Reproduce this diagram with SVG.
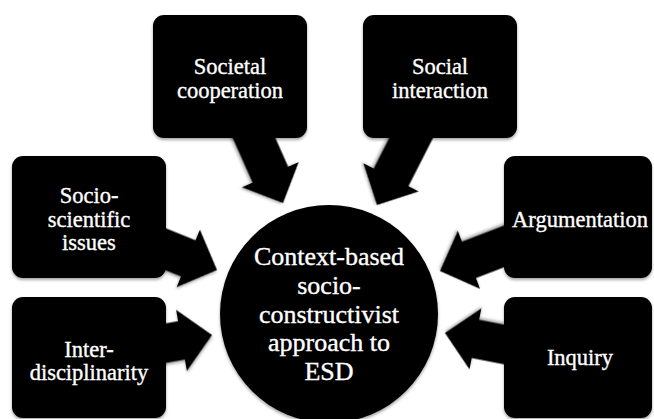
<svg xmlns="http://www.w3.org/2000/svg" width="654" height="419" viewBox="0 0 654 419">
  <defs>
    <filter id="shade" x="-10%" y="-10%" width="120%" height="130%">
      <feDropShadow dx="0" dy="2" stdDeviation="1.8" flood-color="#000" flood-opacity="0.35"/>
    </filter>
    <!-- block arrow pointing along +x with its tip at the origin -->
    <path id="blockArrow" d="M-90,-19.5 H-31 V-31 L0,0 L-31,31 V19.5 H-90 Z"/>
  </defs>
  <style>
    .box { fill: #000; filter: url(#shade); }
    .arrow { fill: #000; filter: url(#shade); }
    text { fill: #fff; stroke: #fff; stroke-width: 0.35px; font-family: 'Liberation Serif', 'DejaVu Serif', serif; text-anchor: middle; }
    .lbl { font-size: 22.5px; }
    .hub { font-size: 26px; }
  </style>
  <rect width="654" height="419" fill="#fff"/>

  <g id="connectors">
    <use href="#blockArrow" class="arrow" transform="translate(283,203) rotate(66)"/>
    <use href="#blockArrow" class="arrow" transform="translate(377,205) rotate(117)"/>
    <use href="#blockArrow" class="arrow" transform="translate(217,270) rotate(22)"/>
    <use href="#blockArrow" class="arrow" transform="translate(212,335) rotate(-10)"/>
    <use href="#blockArrow" class="arrow" transform="translate(440,271) rotate(159)"/>
    <use href="#blockArrow" class="arrow" transform="translate(445,333) rotate(191)"/>
  </g>

  <g id="societal-cooperation">
    <rect class="box" x="153" y="15" width="154" height="123" rx="11"/>
    <text class="lbl" x="230" y="74">Societal</text>
    <text class="lbl" x="230" y="98">cooperation</text>
  </g>

  <g id="social-interaction">
    <rect class="box" x="363" y="15" width="154" height="123" rx="11"/>
    <text class="lbl" x="440" y="74">Social</text>
    <text class="lbl" x="440" y="98">interaction</text>
  </g>

  <g id="socio-scientific-issues">
    <rect class="box" x="12" y="156" width="154" height="122" rx="11"/>
    <text class="lbl" x="89" y="203">Socio-</text>
    <text class="lbl" x="89" y="227">scientific</text>
    <text class="lbl" x="89" y="250">issues</text>
  </g>

  <g id="interdisciplinarity">
    <rect class="box" x="12" y="297" width="154" height="121" rx="11"/>
    <text class="lbl" x="89" y="357">Inter-</text>
    <text class="lbl" x="89" y="380">disciplinarity</text>
  </g>

  <g id="argumentation">
    <rect class="box" x="504" y="156" width="148" height="122" rx="11"/>
    <text class="lbl" x="580" y="227">Argumentation</text>
  </g>

  <g id="inquiry">
    <rect class="box" x="504" y="297" width="148" height="121" rx="11"/>
    <text class="lbl" x="580" y="365">Inquiry</text>
  </g>

  <g id="esd-approach">
    <circle class="box" cx="329" cy="314" r="109"/>
    <text class="hub" x="329" y="265">Context-based</text>
    <text class="hub" x="329" y="294">socio-</text>
    <text class="hub" x="329" y="323">constructivist</text>
    <text class="hub" x="329" y="351">approach to</text>
    <text class="hub" x="329" y="380">ESD</text>
  </g>
</svg>
